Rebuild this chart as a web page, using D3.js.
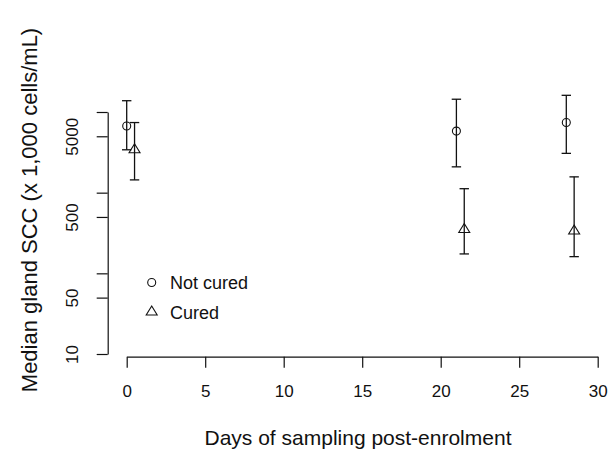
<!DOCTYPE html>
<html>
<head>
<meta charset="utf-8">
<script src="https://cdn.jsdelivr.net/npm/d3@7"></script>
<style>
  body { margin: 0; background: #fff; }
  text { font-family: "Liberation Sans", Arial, sans-serif; fill: #111; }
  .axis path, .axis line { stroke: #111; stroke-width: 1.2; }
  .axis text { font-size: 17px; }
</style>
</head>
<body>
<div id="container"></div>
<script>
var width = 609;
var height = 451;

// values (x 1,000 cells/mL)
var notCuredDays = [0, 21, 28];
var notCuredMedian = [6700, 5800, 7400];
var notCuredLow = [3400, 2090, 3070];
var notCuredHigh = [13800, 14400, 16100];

var curedDays = [0.5, 21.5, 28.5];
var curedMedian = [3400, 350, 335];
var curedLow = [1440, 174, 161];
var curedHigh = [7400, 1120, 1570];

var xTicks = [0, 5, 10, 15, 20, 25, 30];
var yTicks = [10, 50, 100, 500, 1000, 5000, 10000];
var yTickLabels = ["10", "50", "", "500", "", "5000", ""];
var legendLabels = ["Not cured", "Cured"];

var svg = d3.select("div#container").append("svg")
    .attr("width", width)
    .attr("height", height);

var x = d3.scaleLinear().domain([0, 30]).range([126.7, 597.7]);
var y = d3.scaleLog().domain([10, 10000]).range([354, 112]);

// axes, R style (detached)
var xAxis = svg.append("g")
    .attr("class", "axis")
    .attr("transform", "translate(0,356.7)")
    .call(d3.axisBottom(x).tickValues(xTicks).tickSize(11).tickSizeOuter(0));
xAxis.selectAll("text").attr("y", 40).attr("dy", 0);

var yAxis = svg.append("g")
    .attr("class", "axis")
    .attr("transform", "translate(107.7,0)")
    .call(d3.axisLeft(y).tickValues(yTicks).tickSize(11).tickSizeOuter(0)
        .tickFormat(function(d, i) { return yTickLabels[i]; }));
yAxis.selectAll("text")
    .attr("transform", "rotate(-90)")
    .attr("x", 0)
    .attr("y", -30)
    .attr("dy", 0)
    .attr("text-anchor", "middle");

// titles
svg.append("text")
    .attr("x", 358)
    .attr("y", 445)
    .attr("text-anchor", "middle")
    .style("font-size", "21px")
    .text("Days of sampling post-enrolment");

svg.append("text")
    .attr("transform", "translate(37,210) rotate(-90)")
    .attr("text-anchor", "middle")
    .style("font-size", "22px")
    .text("Median gland SCC (x 1,000 cells/mL)");

// error bars
function drawBars(days, low, high) {
    var g = svg.append("g").attr("stroke", "#111").attr("stroke-width", 1.3);
    days.forEach(function(d, i) {
        g.append("line")
            .attr("x1", x(d)).attr("x2", x(d))
            .attr("y1", y(low[i])).attr("y2", y(high[i]));
        [low[i], high[i]].forEach(function(v) {
            g.append("line")
                .attr("x1", x(d) - 4.7).attr("x2", x(d) + 4.7)
                .attr("y1", y(v)).attr("y2", y(v));
        });
    });
}
drawBars(notCuredDays, notCuredLow, notCuredHigh);
drawBars(curedDays, curedLow, curedHigh);

// triangle pch=2: apex above, base below the point
function triangle(cx, cy) {
    return "M" + cx + "," + (cy - 6) +
        "L" + (cx + 5.5) + "," + (cy + 3) +
        "L" + (cx - 5.5) + "," + (cy + 3) + "Z";
}

svg.selectAll("circle.pt")
    .data(notCuredDays)
    .enter().append("circle")
    .attr("class", "pt")
    .attr("cx", function(d) { return x(d); })
    .attr("cy", function(d, i) { return y(notCuredMedian[i]); })
    .attr("r", 4)
    .attr("fill", "none")
    .attr("stroke", "#111")
    .attr("stroke-width", 1.1);

svg.selectAll("path.tri")
    .data(curedDays)
    .enter().append("path")
    .attr("class", "tri")
    .attr("d", function(d, i) { return triangle(x(d), y(curedMedian[i])); })
    .attr("fill", "none")
    .attr("stroke", "#111")
    .attr("stroke-width", 1.1);

// legend
var legend = svg.append("g");
legend.append("circle")
    .attr("cx", 151.7).attr("cy", 282.5).attr("r", 4)
    .attr("fill", "none").attr("stroke", "#111").attr("stroke-width", 1.1);
legend.append("path")
    .attr("d", triangle(151.7, 312))
    .attr("fill", "none").attr("stroke", "#111").attr("stroke-width", 1.1);
legend.selectAll("text")
    .data(legendLabels)
    .enter().append("text")
    .attr("x", 170)
    .attr("y", function(d, i) { return 289 + i * 29.5; })
    .style("font-size", "18px")
    .text(function(d) { return d; });
</script>
</body>
</html>
